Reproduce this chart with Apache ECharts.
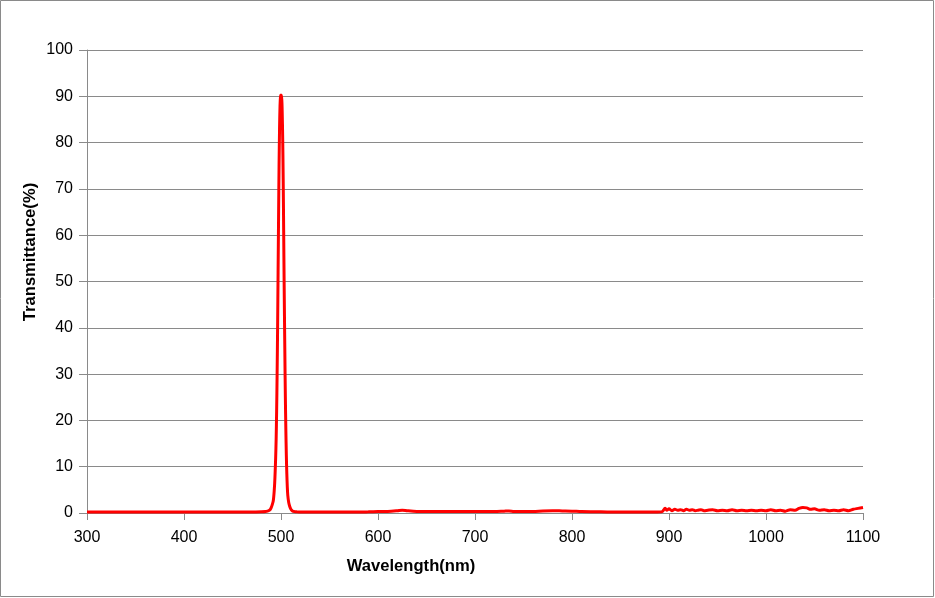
<!DOCTYPE html>
<html><head><meta charset="utf-8">
<script src="https://cdn.jsdelivr.net/npm/echarts@6/dist/echarts.min.js"></script>
<style>html,body{margin:0;padding:0;background:#fff}#c{width:935px;height:598px}</style>
</head><body><div id="c"></div>
<script>
const wavelengths = [300,320,340,360,380,400,420,440,460,470,480,484,486,488,489,490,491,492,492.5,493,493.5,494,494.5,495,495.5,496,496.5,497,497.5,498,498.5,499,499.5,500,500.5,501,501.5,502,502.5,503,503.5,504,504.5,505,505.5,506,506.5,507,508,509,510,511,512,514,516,520,530,550,570,590,600,610,620,625,630,640,650,670,690,700,710,720,730,735,740,750,760,770,780,790,800,810,830,850,870,885,893,896,898,900,903,906,909,912,915,918,921,924,927,930,933,936,940,945,950,955,960,965,970,975,980,985,990,995,1000,1005,1010,1015,1020,1025,1030,1034,1038,1042,1046,1050,1055,1060,1065,1070,1075,1080,1085,1090,1095,1100];
const transmittance = [0.2,0.2,0.2,0.2,0.2,0.2,0.2,0.2,0.2,0.2,0.25,0.3,0.4,0.6,0.8,1.2,1.8,2.6,3.5,4.8,6.5,9,12,16,22,30,40,52,64,75,83,88,90,90.3,90,88.5,84,77,67,55,44,34,25,18,12.5,8.5,5.6,3.8,2.2,1.4,0.9,0.6,0.4,0.3,0.25,0.2,0.2,0.2,0.2,0.25,0.3,0.35,0.5,0.6,0.5,0.35,0.3,0.3,0.35,0.3,0.3,0.3,0.4,0.45,0.35,0.3,0.3,0.45,0.5,0.45,0.4,0.3,0.25,0.2,0.2,0.2,0.3,1.0,0.6,0.9,0.5,0.8,0.6,0.7,0.5,0.8,0.6,0.7,0.5,0.6,0.7,0.5,0.6,0.7,0.5,0.6,0.5,0.7,0.5,0.6,0.5,0.6,0.5,0.6,0.5,0.7,0.5,0.6,0.4,0.7,0.6,1.0,1.2,1.1,0.8,0.9,0.6,0.7,0.5,0.6,0.5,0.7,0.5,0.8,1.0,1.2];
const xTicks = {min:300,max:1100,interval:100};
const yTicks = {min:0,max:100,interval:10};
const xTitle = 'Wavelength(nm)';
const yTitle = 'Transmittance(%)';

const data = wavelengths.map((w,i)=>[w,transmittance[i]]);
const chart = echarts.init(document.getElementById('c'),null,{renderer:'canvas'});
const font = '"Liberation Sans", Arial, sans-serif';
const gray = '#8a8a8a';
chart.setOption({
  animation:false,
  backgroundColor:'#fff',
  grid:{left:87,right:72,top:50,bottom:85},
  xAxis:{type:'value',min:xTicks.min,max:xTicks.max,interval:xTicks.interval,
    axisLine:{lineStyle:{color:gray,width:1}},
    axisTick:{show:true,length:7,inside:false,lineStyle:{color:gray}},
    splitLine:{show:false},
    axisLabel:{color:'#000',fontSize:16,fontFamily:font,margin:17,formatter:v=>String(v)}},
  yAxis:{type:'value',min:yTicks.min,max:yTicks.max,interval:yTicks.interval,
    axisLine:{show:true,lineStyle:{color:gray,width:1}},
    axisTick:{show:true,length:8,inside:false,lineStyle:{color:gray}},
    splitLine:{show:true,lineStyle:{color:gray,width:1}},
    axisLabel:{color:'#000',fontSize:16,fontFamily:font,margin:14,padding:[4,0,0,0],formatter:v=>String(v)}},
  series:[{type:'line',data:data,showSymbol:false,smooth:0.3,
    lineStyle:{color:'#ff0000',width:3},z:5}],
  graphic:[
    {type:'rect',shape:{x:0.5,y:0.5,width:933,height:596},style:{fill:'none',stroke:gray,lineWidth:1},silent:true},
    {type:'text',x:411,y:566,style:{text:xTitle,font:'bold 16.6px '+font,fill:'#000',textAlign:'center',textVerticalAlign:'middle'}},
    {type:'text',x:30,y:252,rotation:Math.PI/2,style:{text:yTitle,font:'bold 16.6px '+font,fill:'#000',textAlign:'center',textVerticalAlign:'middle'}}
  ]
});
</script></body></html>
